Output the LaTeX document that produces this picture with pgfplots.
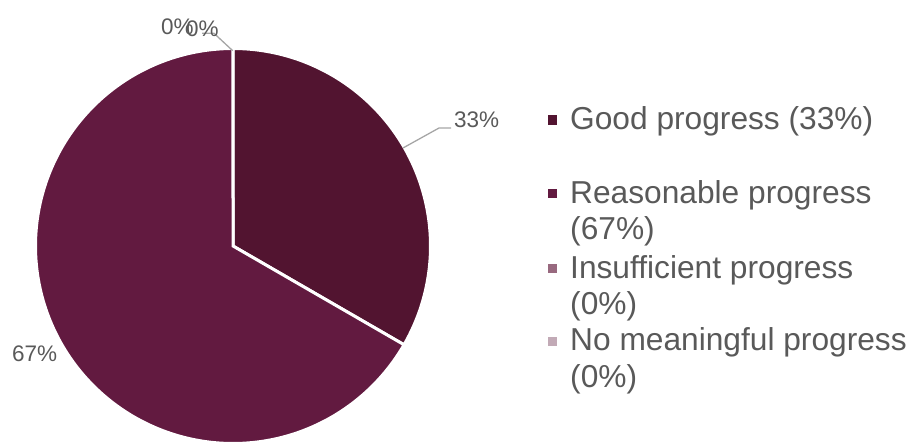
\documentclass[border=0pt]{standalone}
\usepackage{pgfplots}
\pgfplotsset{compat=1.18}
\usepackage{pgfplotstable}
\usepackage{fontspec}
\setmainfont{Liberation Sans}
\definecolor{cGood}{HTML}{521430}
\definecolor{cReas}{HTML}{621A40}
\definecolor{cInsuf}{HTML}{98697F}
\definecolor{cNone}{HTML}{C2AAB6}
\definecolor{txt}{HTML}{595959}
\definecolor{lead}{HTML}{A6A6A6}
% share of each category (percent)
\pgfplotstableread{
name value
Good 33.333
Reasonable 66.667
Insufficient 0
None 0
}\piedata
\pgfplotstablegetelem{0}{value}\of\piedata \let\vA\pgfplotsretval
\pgfplotstablegetelem{1}{value}\of\piedata \let\vB\pgfplotsretval
\pgfplotstablegetelem{2}{value}\of\piedata \let\vC\pgfplotsretval
\pgfplotstablegetelem{3}{value}\of\piedata \let\vD\pgfplotsretval
\pgfmathsetmacro\aA{3.6*\vA}
\pgfmathsetmacro\aB{\aA+3.6*\vB}
\newcommand\lgfont{\fontsize{31.7bp}{36.5bp}\selectfont}
\newcommand\lbfont{\fontsize{22.5bp}{26bp}\selectfont}
\begin{document}
\begin{tikzpicture}
\begin{axis}[name=ax, scale only axis, width=913bp, height=442bp,
  xmin=0, xmax=913, ymin=0, ymax=442, y dir=reverse, hide axis]
% sectors, clockwise from 12 o'clock
\addplot[fill=cGood, draw=white, line width=3bp, domain=0:\aA, samples=120, variable=\t]
  ({233+197.5*sin(t)},{246-197.5*cos(t)}) -- (axis cs:233,246) -- cycle;
\addplot[fill=cReas, draw=white, line width=3bp, domain=\aA:\aB, samples=200, variable=\t]
  ({233+197.5*sin(t)},{246-197.5*cos(t)}) -- (axis cs:233,246) -- cycle;
% leader lines
\draw[lead, line width=1.3bp] (axis cs:403,148) -- (axis cs:439,128) -- (axis cs:451,128);
\draw[lead, line width=1.3bp] (axis cs:232.7,50.7) -- (axis cs:214,33.3) -- (axis cs:202,33.3);
% data labels
\node[anchor=base west, inner sep=0, text=txt, font=\lbfont] at (axis cs:454,127) {33\%};
\node[anchor=base west, inner sep=0, text=txt, font=\lbfont] at (axis cs:12,361.5) {67\%};
\node[anchor=base west, inner sep=0, text=txt, font=\lbfont] at (axis cs:161,35) {0\%};
\node[anchor=base west, inner sep=0, text=txt, font=\lbfont] at (axis cs:186,37) {0\%};
% legend
\fill[cGood] (axis cs:548,115.5) rectangle (axis cs:557,124.5);
\fill[cReas] (axis cs:548,189) rectangle (axis cs:557,198);
\fill[cInsuf] (axis cs:548,264) rectangle (axis cs:557,273);
\fill[cNone] (axis cs:548,336.5) rectangle (axis cs:557,345.5);
\node[anchor=base west, inner sep=0, text=txt, font=\lgfont] at (axis cs:570,129) {Good progress (33\%)};
\node[anchor=base west, inner sep=0, text=txt, font=\lgfont] at (axis cs:570,203) {Reasonable progress};
\node[anchor=base west, inner sep=0, text=txt, font=\lgfont] at (axis cs:570,239.5) {(67\%)};
\node[anchor=base west, inner sep=0, text=txt, font=\lgfont] at (axis cs:570,278) {Insufficient progress};
\node[anchor=base west, inner sep=0, text=txt, font=\lgfont] at (axis cs:570,314.5) {(0\%)};
\node[anchor=base west, inner sep=0, text=txt, font=\lgfont] at (axis cs:570,350.5) {No meaningful progress};
\node[anchor=base west, inner sep=0, text=txt, font=\lgfont] at (axis cs:570,387) {(0\%)};
\end{axis}
\pgfresetboundingbox
\path (ax.south west) rectangle (ax.north east);
\end{tikzpicture}
\end{document}
